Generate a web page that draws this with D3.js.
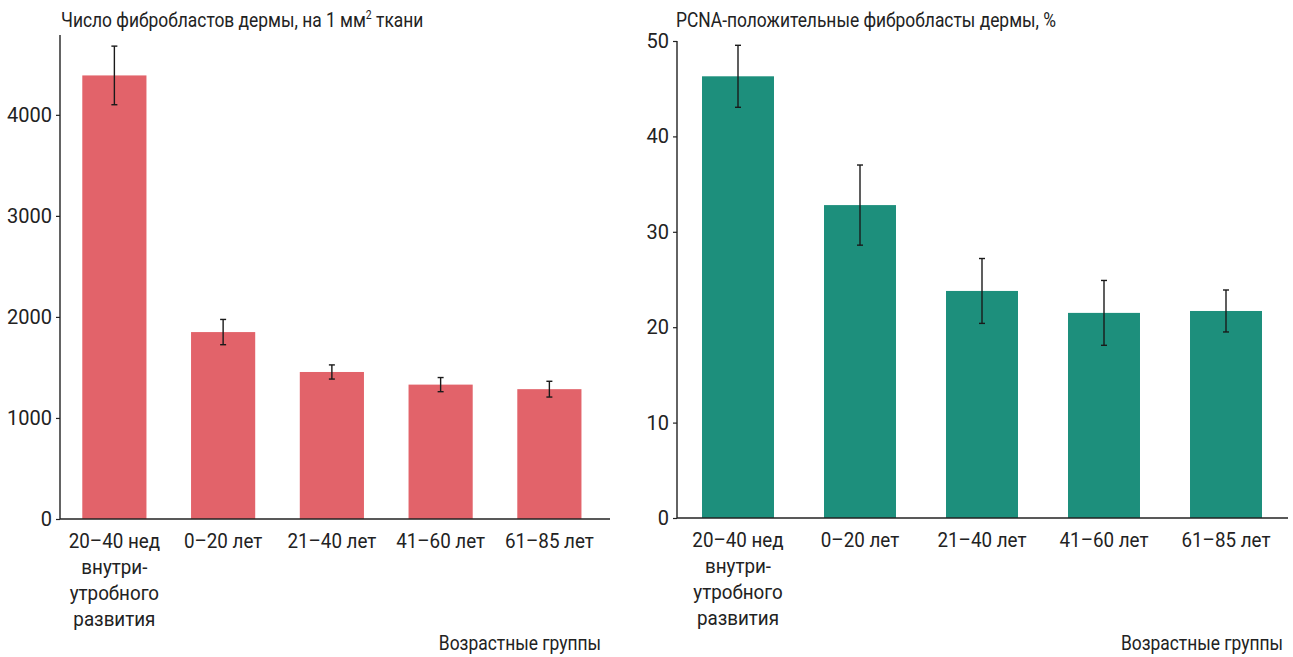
<!DOCTYPE html>
<html>
<head>
<meta charset="utf-8">
<script src="https://cdn.jsdelivr.net/npm/d3@7"></script>
<style>
  html, body { margin: 0; padding: 0; background: #fff; }
  svg text { font-family: "Roboto", "Noto Sans", sans-serif; fill: #222; }
</style>
</head>
<body>
<svg id="chart" width="1293" height="657"></svg>
<script>
// Age groups (multi-line labels)
const categories = [
  ["20–40 нед", "внутри-", "утробного", "развития"],
  ["0–20 лет"],
  ["21–40 лет"],
  ["41–60 лет"],
  ["61–85 лет"]
];
// Fibroblast count per 1 mm² of tissue (mean, error)
const fibroCount = [4390, 1850, 1455, 1330, 1285];
const fibroErr = [290, 125, 70, 70, 78];
const fibroTicks = [0, 1000, 2000, 3000, 4000];
// PCNA-positive fibroblasts, %
const pcnaPct = [46.3, 32.8, 23.8, 21.5, 21.7];
const pcnaErr = [3.25, 4.2, 3.4, 3.4, 2.2];
const pcnaTicks = [0, 10, 20, 30, 40, 50];

const svg = d3.select("#chart");

// narrow a text element horizontally around its anchor x
function squeeze(sel, sx, ax) {
  sel.attr("transform", `translate(${ax},0) scale(${sx},1) translate(${-ax},0)`);
}

function panel(cfg) {
  const g = svg.append("g");
  const x = d3.scaleBand()
    .domain(d3.range(categories.length))
    .range([cfg.x0, cfg.x1])
    .paddingInner(0.41)
    .paddingOuter(0.205);
  const y = d3.scaleLinear().domain(cfg.domain).range([cfg.yBottom, cfg.yTop]);

  // bars
  g.selectAll("rect.bar").data(cfg.values).join("rect")
    .attr("class", "bar")
    .attr("x", (d, i) => x(i))
    .attr("width", x.bandwidth())
    .attr("y", d => y(d))
    .attr("height", d => y(0) - y(d))
    .attr("fill", cfg.color);

  // error bars
  const eb = g.selectAll("g.err").data(cfg.values).join("g").attr("class", "err")
    .attr("stroke", "#1a1a1a").attr("stroke-width", 1.4);
  eb.append("line")
    .attr("x1", (d, i) => x(i) + x.bandwidth() / 2)
    .attr("x2", (d, i) => x(i) + x.bandwidth() / 2)
    .attr("y1", (d, i) => y(d + cfg.errs[i]))
    .attr("y2", (d, i) => y(d - cfg.errs[i]));
  [1, -1].forEach(s => {
    eb.append("line")
      .attr("x1", (d, i) => x(i) + x.bandwidth() / 2 - 3)
      .attr("x2", (d, i) => x(i) + x.bandwidth() / 2 + 3)
      .attr("y1", (d, i) => y(d + s * cfg.errs[i]))
      .attr("y2", (d, i) => y(d + s * cfg.errs[i]));
  });

  // y axis
  const yAxis = g.append("g")
    .attr("transform", `translate(${cfg.x0},0)`)
    .call(d3.axisLeft(y).tickValues(cfg.ticks).tickSize(4).tickPadding(4).tickFormat(d3.format("d")));
  yAxis.select(".domain").remove();
  yAxis.selectAll(".tick line").attr("stroke", "#222").attr("stroke-width", 1.2);
  yAxis.selectAll(".tick text").attr("font-size", 20).attr("fill", "#222")
    .style("font-family", null);
  g.append("line")
    .attr("x1", cfg.x0).attr("x2", cfg.x0)
    .attr("y1", cfg.axisTop).attr("y2", y(0))
    .attr("stroke", "#222").attr("stroke-width", 1.4);

  // x axis line
  g.append("line")
    .attr("x1", cfg.x0).attr("x2", cfg.axisRight)
    .attr("y1", y(0)).attr("y2", y(0))
    .attr("stroke", "#222").attr("stroke-width", 1.4);

  // category labels
  const lbl = g.selectAll("text.cat").data(categories).join("text")
    .attr("class", "cat")
    .attr("text-anchor", "middle")
    .attr("font-size", 20)
    .attr("x", (d, i) => x(i) + x.bandwidth() / 2)
    .attr("y", y(0) + 29);
  lbl.selectAll("tspan").data(d => d).join("tspan")
    .attr("x", function () { return this.parentNode.getAttribute("x"); })
    .attr("dy", (d, i) => i === 0 ? 0 : 26)
    .text(d => d);
  lbl.each(function (d, i) { squeeze(d3.select(this), 0.94, x(i) + x.bandwidth() / 2); });

  // x axis title
  const xt = g.append("text")
    .attr("x", cfg.xTitleRight).attr("y", 650)
    .attr("text-anchor", "end")
    .attr("font-size", 20)
    .text("Возрастные группы");
  squeeze(xt, 0.87, cfg.xTitleRight);

  // chart title
  const t = g.append("text")
    .attr("x", cfg.titleX).attr("y", 27)
    .attr("font-size", 20);
  cfg.title(t);
  squeeze(t, 0.87, cfg.titleX);
}

panel({
  x0: 60, x1: 603.75, axisRight: 610, xTitleRight: 601,
  yBottom: 519, yTop: 34, axisTop: 35,
  domain: [0, 4800],
  values: fibroCount, errs: fibroErr, ticks: fibroTicks,
  color: "#E2636A",
  titleX: 61,
  title: t => {
    t.append("tspan").text("Число фибробластов дермы, на 1 мм");
    t.append("tspan").attr("font-size", 12).attr("dy", -8).text("2");
    t.append("tspan").attr("dy", 8).text(" ткани");
  }
});

panel({
  x0: 677, x1: 1287, axisRight: 1288, xTitleRight: 1283,
  yBottom: 518, yTop: 41, axisTop: 41,
  domain: [0, 50],
  values: pcnaPct, errs: pcnaErr, ticks: pcnaTicks,
  color: "#1D8F7C",
  titleX: 676,
  title: t => t.text("PCNA-положительные фибробласты дермы, %")
});
</script>
</body>
</html>
